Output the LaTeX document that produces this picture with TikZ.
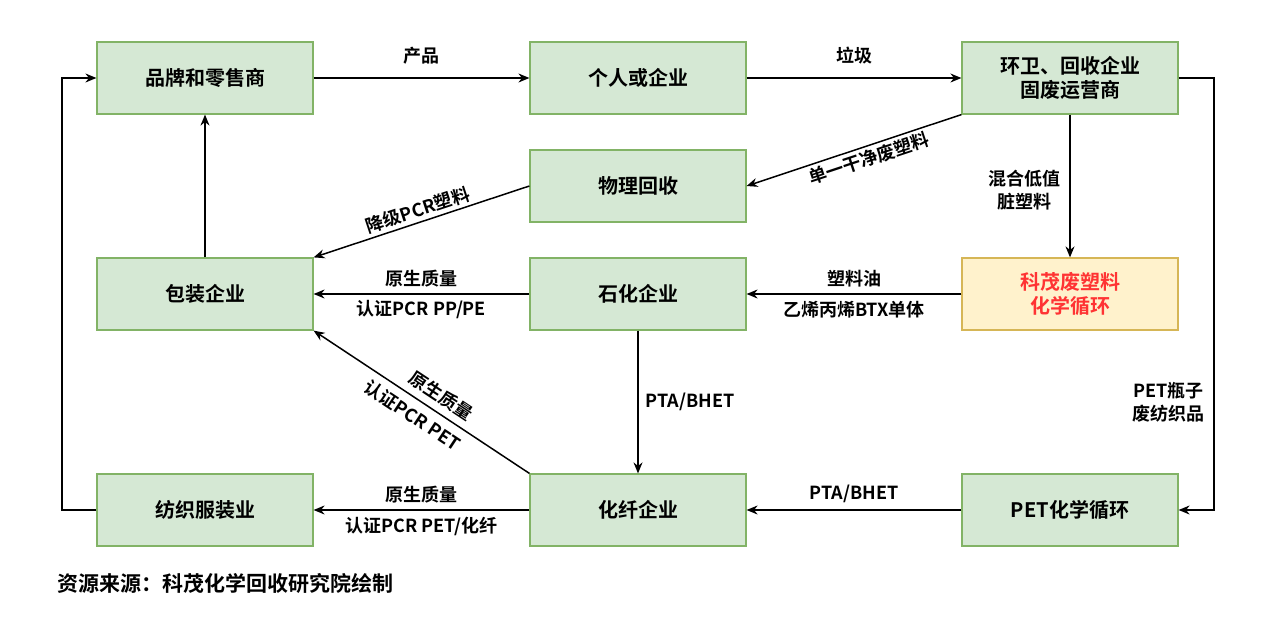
\documentclass[tikz,border=0pt]{standalone}
\usepackage{fontspec}
\setmainfont{Noto Sans CJK SC}[BoldFont={* Bold}]
\usetikzlibrary{arrows.meta}
\definecolor{gfill}{HTML}{D5E8D4}
\definecolor{gdraw}{HTML}{82B366}
\definecolor{yfill}{HTML}{FFF2CC}
\definecolor{ydraw}{HTML}{D6B656}
\definecolor{kred}{HTML}{FF3333}
\begin{document}
\begin{tikzpicture}[x=1pt,y=-1pt,
  box/.style={draw=gdraw,fill=gfill,line width=1.2pt,minimum width=216pt,minimum height=72pt,align=center,font=\fontsize{20}{24}\selectfont\bfseries},
  lbl/.style={font=\fontsize{18}{23}\selectfont\bfseries,align=center,inner sep=1pt},
  arr/.style={line width=1.5pt,-{Stealth[length=11pt,width=9pt]}}]
\useasboundingbox (0,0) rectangle (1266,639);
\node[box] (brand) at (205,78) {品牌和零售商};
\node[box] (person) at (638,78) {个人或企业};
\node[box] (env) at (1070,78) {环卫、回收企业\\固废运营商};
\node[box] (phys) at (638,186) {物理回收};
\node[box] (pack) at (205,294) {包装企业};
\node[box] (petro) at (638,294) {石化企业};
\node[box,fill=yfill,draw=ydraw,text=kred] (km) at (1070,294) {科茂废塑料\\化学循环};
\node[box] (text) at (205,510) {纺织服装业};
\node[box] (fiber) at (638,510) {化纤企业};
\node[box] (pet) at (1070,510) {PET化学循环};

\draw[arr] (brand) -- node[lbl,above=12pt]{产品} (person);
\draw[arr] (person) -- node[lbl,above=12pt]{垃圾} (env);
\draw[arr] (env.south west) -- node[lbl,sloped,below=2pt,pos=0.45]{单一干净废塑料} (phys.east);
\draw[arr] (env) -- node[lbl,left=8pt,pos=0.53]{混合低值\\脏塑料} (km);
\draw[arr] (phys.west) -- node[lbl,sloped,above=2pt]{降级PCR塑料} (pack.north east);
\draw[arr] (pack) -- (brand);
\draw[arr] (petro) -- node[lbl,above=5pt]{原生质量} node[lbl,below=5pt]{认证PCR PP/PE} (pack);
\draw[arr] (km) -- node[lbl,above=5pt]{塑料油} node[lbl,below=5pt]{乙烯丙烯BTX单体} (petro);
\draw[arr] (petro) -- node[lbl,right=6pt]{PTA/BHET} (fiber);
\draw[arr] (fiber.north west) -- node[lbl,sloped,above=6pt,pos=0.45]{原生质量} node[lbl,sloped,below=6pt,pos=0.5]{认证PCR PET} (pack.south east);
\draw[arr] (pet) -- node[lbl,above=5pt]{PTA/BHET} (fiber);
\draw[arr] (fiber) -- node[lbl,above=5pt]{原生质量} node[lbl,below=5pt]{认证PCR PET/化纤} (text);
\coordinate (tl) at (62,510); \coordinate (tu) at (62,78);
\draw[arr] (text.west) -- (tl) -- (tu) -- (brand.west);
\coordinate (er) at (1214,78); \coordinate (ed) at (1214,510);
\draw[arr] (env.east) -- (er) -- node[lbl,left=8pt,pos=0.75]{PET瓶子\\废纺织品} (ed) -- (pet.east);
\node[lbl,anchor=west,font=\fontsize{21}{25}\selectfont\bfseries] (src) at (56,583) {资源来源：科茂化学回收研究院绘制};
\end{tikzpicture}
\end{document}
